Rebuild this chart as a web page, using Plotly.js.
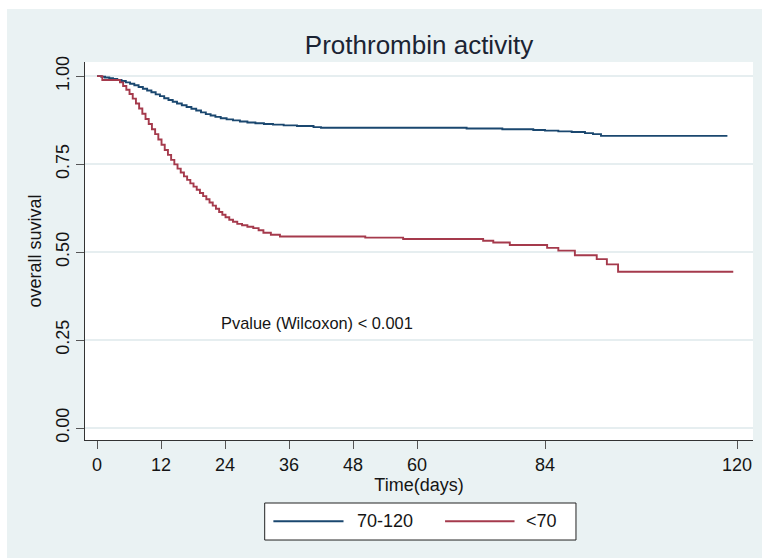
<!DOCTYPE html>
<html>
<head>
<meta charset="utf-8">
<script src="https://cdn.plot.ly/plotly-3.0.1.min.js"></script>
<style>
  html, body { margin: 0; padding: 0; background: #ffffff; }
  #chart { position: absolute; left: 7px; top: 9px; width: 755px; height: 549px; }
</style>
</head>
<body>
<div id="chart"></div>
<script>
// ---- Data ----
const seriesNames = ['70-120', '<70'];

// Kaplan-Meier step points, group 70-120
const timeHigh = [0, 0.8, 1.5, 2.3, 3.0, 3.8, 4.6, 5.4, 6.2, 7.0, 7.8, 8.6, 9.4, 10.2, 11.0, 11.8,
  12.6, 13.4, 14.2, 15.0, 15.9, 16.8, 17.7, 18.6, 19.5, 20.4, 21.3, 22.2, 23.2, 24.3, 25.5, 26.8,
  28.2, 29.7, 31.3, 33.0, 35.0, 37.5, 40.6, 42.0, 69.3, 76.0, 81.8, 84.0, 86.5, 89.0, 91.5, 93.0,
  94.5, 118.2];
const survHigh = [1.000, 0.998, 0.996, 0.994, 0.992, 0.989, 0.986, 0.982, 0.978, 0.974, 0.969, 0.964,
  0.959, 0.954, 0.948, 0.943, 0.937, 0.932, 0.927, 0.922, 0.917, 0.912, 0.907, 0.902, 0.897, 0.892,
  0.888, 0.884, 0.880, 0.877, 0.874, 0.871, 0.868, 0.866, 0.864, 0.862, 0.860, 0.858, 0.855, 0.853,
  0.851, 0.849, 0.847, 0.845, 0.843, 0.841, 0.838, 0.835, 0.830, 0.830];

// Kaplan-Meier step points, group <70
const timeLow = [0, 1.0, 4.3, 4.9, 5.5, 6.1, 6.7, 7.3, 7.9, 8.5, 9.1, 9.7, 10.3, 10.9, 11.5, 12.1,
  12.7, 13.3, 13.9, 14.5, 15.1, 15.7, 16.3, 16.9, 17.5, 18.1, 18.7, 19.3, 19.9, 20.5, 21.1, 21.7,
  22.3, 22.9, 23.5, 24.1, 24.8, 25.5, 26.3, 27.2, 28.2, 29.3, 30.3, 31.2, 32.6, 34.3, 50.3, 57.4,
  72.4, 74.3, 77.4, 84.4, 86.5, 89.6, 93.7, 95.6, 97.7, 119.3];
const survLow = [1.000, 0.989, 0.982, 0.972, 0.961, 0.949, 0.936, 0.922, 0.908, 0.893, 0.878, 0.864,
  0.849, 0.835, 0.820, 0.805, 0.790, 0.776, 0.762, 0.749, 0.737, 0.726, 0.715, 0.705, 0.695, 0.686,
  0.677, 0.668, 0.659, 0.650, 0.641, 0.632, 0.623, 0.614, 0.606, 0.599, 0.592, 0.586, 0.580, 0.576,
  0.572, 0.568, 0.562, 0.555, 0.549, 0.544, 0.541, 0.537, 0.532, 0.527, 0.520, 0.512, 0.504, 0.491,
  0.480, 0.465, 0.444, 0.444];

const xTicks = [0, 12, 24, 36, 48, 60, 84, 120];
const yTicks = [0, 0.25, 0.5, 0.75, 1];
const yTickText = ['0.00', '0.25', '0.50', '0.75', '1.00'];

const chartTitle = 'Prothrombin activity';
const xTitle = 'Time(days)';
const yTitle = 'overall suvival';
const noteText = 'Pvalue (Wilcoxon) < 0.001';

// ---- Styling ----
const colors = ['#1a476f', '#a53a4c'];
const FONT = '"Liberation Sans", Arial, sans-serif';
const TXT = '#151515';
const FS = 18;

const traces = [
  { x: timeHigh, y: survHigh, name: seriesNames[0], type: 'scatter', mode: 'lines',
    line: { shape: 'hv', color: colors[0], width: 1.9 }, hoverinfo: 'skip' },
  { x: timeLow, y: survLow, name: seriesNames[1], type: 'scatter', mode: 'lines',
    line: { shape: 'hv', color: colors[1], width: 1.9 }, hoverinfo: 'skip' }
];

// manual legend (box, line keys, labels) in paper coordinates
const legY = -0.215;
const shapes = [
  { type: 'rect', xref: 'paper', yref: 'paper', x0: 0.269, x1: 0.735, y0: -0.2646, y1: -0.1667,
    line: { color: '#222', width: 1 }, fillcolor: '#ffffff', layer: 'above' },
  { type: 'line', xref: 'paper', yref: 'paper', x0: 0.282, x1: 0.387, y0: legY, y1: legY,
    line: { color: colors[0], width: 1.9 } },
  { type: 'line', xref: 'paper', yref: 'paper', x0: 0.539, x1: 0.643, y0: legY, y1: legY,
    line: { color: colors[1], width: 1.9 } }
];

const annotations = [
  { xref: 'paper', yref: 'paper', x: 0.404, y: legY, xanchor: 'left', yanchor: 'middle',
    text: seriesNames[0], showarrow: false, font: { family: FONT, size: FS, color: TXT } },
  { xref: 'paper', yref: 'paper', x: 0.657, y: legY, xanchor: 'left', yanchor: 'middle',
    text: seriesNames[1], showarrow: false, font: { family: FONT, size: FS, color: TXT } },
  { xref: 'paper', yref: 'paper', x: 0.200, y: 0.31, xanchor: 'left', yanchor: 'middle',
    text: noteText, showarrow: false, font: { family: FONT, size: 16.4, color: TXT } }
];

const layout = {
  width: 755, height: 549,
  margin: { l: 78, r: 9, t: 53, b: 118, pad: 0 },
  paper_bgcolor: '#eaf2f3',
  plot_bgcolor: '#ffffff',
  showlegend: false,
  font: { family: FONT, size: FS, color: TXT },
  title: { text: chartTitle, font: { family: FONT, size: 26, color: '#1b2433' },
    xref: 'paper', x: 0.5, xanchor: 'center', yref: 'container', y: 0.934, yanchor: 'middle' },
  xaxis: {
    range: [-2.25, 123.0], tickvals: xTicks, ticktext: xTicks.map(String),
    showgrid: false, zeroline: false, showline: true, linecolor: '#333', linewidth: 1,
    ticks: 'outside', ticklen: 8, tickcolor: '#555', tickwidth: 1,
    tickfont: { family: FONT, size: FS, color: TXT },
    title: { text: xTitle, standoff: 0, font: { family: FONT, size: FS, color: TXT } }
  },
  yaxis: {
    range: [-0.034, 1.040], tickvals: yTicks, ticktext: yTickText, tickangle: -90,
    showgrid: true, gridcolor: '#e6eef0', gridwidth: 1.2, zeroline: false,
    showline: true, linecolor: '#333', linewidth: 1,
    ticks: 'outside', ticklen: 8, tickcolor: '#555', tickwidth: 1,
    tickfont: { family: FONT, size: FS, color: TXT },
    title: { text: yTitle, standoff: 6, font: { family: FONT, size: FS, color: TXT } }
  },
  shapes: shapes,
  annotations: annotations
};

Plotly.newPlot('chart', traces, layout, { displayModeBar: false, staticPlot: true });
</script>
</body>
</html>
